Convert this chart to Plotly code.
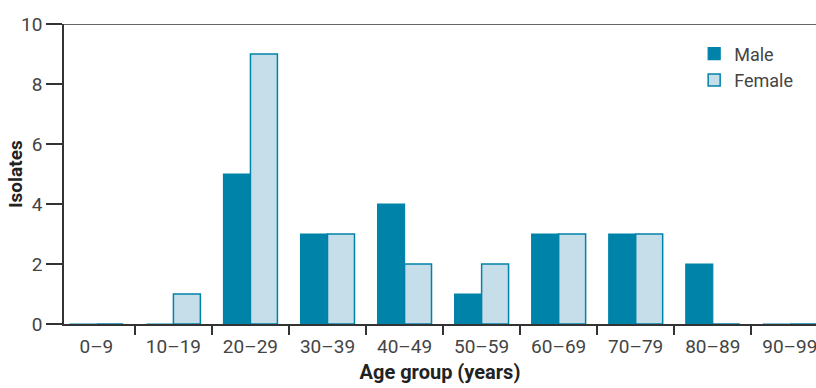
import plotly.graph_objects as go

categories = ["0–9", "10–19", "20–29", "30–39", "40–49", "50–59", "60–69", "70–79", "80–89", "90–99"]
male = [0, 0, 5, 3, 4, 1, 3, 3, 2, 0]
female = [0, 1, 9, 3, 2, 2, 3, 3, 0, 0]

teal = "#0083A9"
light = "#C5DEE9"
axis_col = "#333333"
font = "Roboto"

fig = go.Figure()
fig.add_trace(go.Bar(x=categories, y=male, name="Male",
                     marker=dict(color=teal, line=dict(color=teal, width=1.2))))
fig.add_trace(go.Bar(x=categories, y=female, name="Female",
                     marker=dict(color=light, line=dict(color=teal, width=1.5))))

fig.update_layout(
    width=816, height=388,
    margin=dict(l=64, r=0, t=24, b=64, autoexpand=False),
    paper_bgcolor="white", plot_bgcolor="white",
    barmode="group", bargap=0.3, bargroupgap=0,
    font=dict(family=font, size=19, color="#444444"),
    showlegend=True,
    legend=dict(x=0.838, y=0.962, xanchor="left", yanchor="top",
                bgcolor="rgba(0,0,0,0)", font=dict(size=18, color="#444444"),
                itemwidth=30, tracegroupgap=2),
)
fig.update_xaxes(
    type="category", range=[-0.42, 9.34],
    showline=True, linecolor=axis_col, linewidth=1.5,
    ticks="outside", tickson="boundaries", ticklen=9, tickwidth=1.5, tickcolor=axis_col,
    ticklabelstandoff=4,
    showgrid=False, zeroline=False,
    title=dict(text="<b>Age group (years)</b>", font=dict(size=20, color="#222222"), standoff=8),
)
fig.update_yaxes(
    range=[0, 10], tickvals=[0, 2, 4, 6, 8, 10],
    showline=True, linecolor=axis_col, linewidth=1.5,
    ticks="outside", ticklen=16, tickwidth=1.5, tickcolor=axis_col,
    showgrid=False, zeroline=False,
)
fig.add_annotation(text="<b>Isolates</b>", xref="paper", yref="paper",
                   x=-0.0652, y=0.5, xanchor="center", yanchor="middle",
                   textangle=-90, showarrow=False,
                   font=dict(size=19, color="#222222"))
fig.add_shape(type="line", xref="paper", yref="y", x0=0, x1=1, y0=10, y1=10,
              line=dict(color=axis_col, width=1.5))

fig.write_html("out.html", config={"displayModeBar": False},
               post_script="document.body.style.margin='0';")
